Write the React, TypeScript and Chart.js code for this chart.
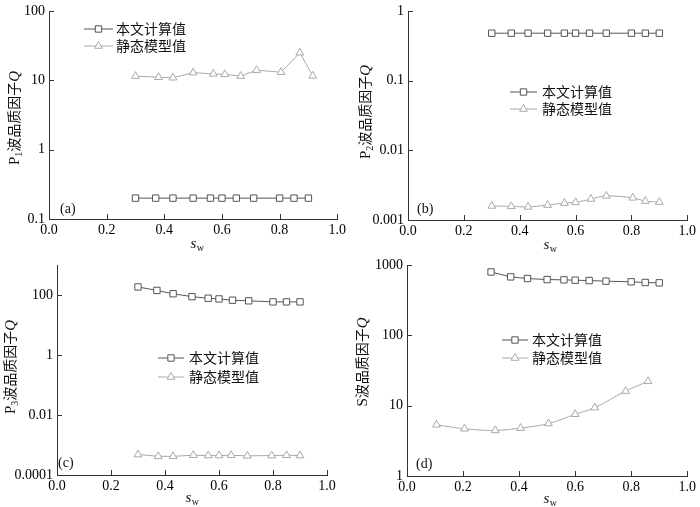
import React, { useEffect, useRef } from 'react';
import { Chart, registerables } from 'chart.js';

Chart.register(...registerables);

// ---------- data ----------
const xTicks = [0, 0.2, 0.4, 0.6, 0.8, 1.0];
const legendLabels = ['本文计算值', '静态模型值'];

const aCalcX = [0.30, 0.37, 0.43, 0.50, 0.56, 0.60, 0.65, 0.71, 0.80, 0.85, 0.90];
const aCalcY = [0.2, 0.2, 0.2, 0.2, 0.2, 0.2, 0.2, 0.2, 0.2, 0.2, 0.2];
const aStatX = [0.30, 0.38, 0.43, 0.50, 0.57, 0.61, 0.665, 0.72, 0.805, 0.87, 0.915];
const aStatY = [11.5, 11.1, 10.9, 12.9, 12.4, 12.2, 11.5, 14.0, 13.1, 25, 11.6];
const aYTicks = [0.1, 1, 10, 100];

const bCalcX = [0.30, 0.37, 0.43, 0.50, 0.56, 0.60, 0.65, 0.71, 0.80, 0.85, 0.90];
const bCalcY = [0.48, 0.48, 0.48, 0.48, 0.48, 0.48, 0.48, 0.48, 0.48, 0.48, 0.48];
const bStatX = [0.30, 0.37, 0.43, 0.50, 0.56, 0.60, 0.655, 0.71, 0.805, 0.85, 0.90];
const bStatY = [0.00159, 0.00157, 0.00154, 0.00164, 0.00175, 0.00179, 0.0020, 0.00222, 0.00208, 0.00187, 0.00181];
const bYTicks = [0.001, 0.01, 0.1, 1];

const cCalcX = [0.30, 0.37, 0.43, 0.50, 0.56, 0.60, 0.65, 0.71, 0.80, 0.85, 0.90];
const cCalcY = [186, 142, 110, 88, 78, 74, 67, 64, 59, 59, 59];
const cStatX = [0.30, 0.375, 0.43, 0.505, 0.56, 0.60, 0.645, 0.705, 0.795, 0.85, 0.90];
const cStatY = [0.00048, 0.00042, 0.00042, 0.000455, 0.000445, 0.000445, 0.000455, 0.000435, 0.000445, 0.000455, 0.000445];
const cYTicks = [0.0001, 0.01, 1, 100];

const dCalcX = [0.30, 0.37, 0.43, 0.50, 0.56, 0.60, 0.65, 0.71, 0.80, 0.85, 0.90];
const dCalcY = [796, 678, 642, 621, 615, 608, 601, 589, 577, 564, 558];
const dStatX = [0.105, 0.205, 0.315, 0.405, 0.505, 0.60, 0.67, 0.78, 0.86];
const dStatY = [5.35, 4.69, 4.45, 4.8, 5.57, 7.55, 9.37, 16.1, 22.2];
const dYTicks = [1, 10, 100, 1000];

// ---------- styles ----------
const SERIF = '"Liberation Serif", "Times New Roman", serif';
const CJK = '"Noto Sans CJK SC", sans-serif';
const CALC = '#555555';
const STAT = '#a9a9a9';
const AXIS = '#333333';

type Panel = {
  left: number; top: number; w: number; h: number;
  padTop: number; padRight: number; yWidth: number; xHeight: number;
  yMin: number; yMax: number; yTicks: number[];
  calcX: number[]; calcY: number[]; statX: number[]; statY: number[];
  statTension: number;
  legend: { x1: number; x2: number; tx: number; y1: number; y2: number };
  label: { text: string; x: number; y: number };
  yTitle: { head: string; sub: string; bx: number; cy: number };
  xTitle: { cx: number; by: number };
};

const panels: Panel[] = [
  {
    left: 0, top: 0, w: 350, h: 254, padTop: 8, padRight: 12, yWidth: 49, xHeight: 35,
    yMin: 0.1, yMax: 100, yTicks: aYTicks,
    calcX: aCalcX, calcY: aCalcY, statX: aStatX, statY: aStatY, statTension: 0,
    legend: { x1: 84, x2: 113, tx: 116, y1: 29, y2: 46 },
    label: { text: '(a)', x: 60, y: 209 },
    yTitle: { head: 'P', sub: '1', bx: 19, cy: 118 },
    xTitle: { cx: 197, by: 248 },
  },
  {
    left: 350, top: 0, w: 350, h: 254, padTop: 7, padRight: 10, yWidth: 58, xHeight: 34,
    yMin: 0.001, yMax: 1, yTicks: bYTicks,
    calcX: bCalcX, calcY: bCalcY, statX: bStatX, statY: bStatY, statTension: 0.3,
    legend: { x1: 160, x2: 187, tx: 192, y1: 92, y2: 109 },
    label: { text: '(b)', x: 67, y: 209 },
    yTitle: { head: 'P', sub: '2', bx: 20, cy: 112 },
    xTitle: { cx: 200, by: 249 },
  },
  {
    left: 0, top: 254, w: 350, h: 253, padTop: 7, padRight: 23, yWidth: 57, xHeight: 32,
    yMin: 0.0001, yMax: 1000, yTicks: cYTicks,
    calcX: cCalcX, calcY: cCalcY, statX: cStatX, statY: cStatY, statTension: 0,
    legend: { x1: 158, x2: 184, tx: 189, y1: 104, y2: 123 },
    label: { text: '(c)', x: 58, y: 209 },
    yTitle: { head: 'P', sub: '3', bx: 15, cy: 113 },
    xTitle: { cx: 192, by: 248 },
  },
  {
    left: 350, top: 254, w: 350, h: 253, padTop: 8, padRight: 10, yWidth: 57, xHeight: 31,
    yMin: 1, yMax: 1000, yTicks: dYTicks,
    calcX: dCalcX, calcY: dCalcY, statX: dStatX, statY: dStatY, statTension: 0.35,
    legend: { x1: 152, x2: 178, tx: 182, y1: 86, y2: 104 },
    label: { text: '(d)', x: 66, y: 210 },
    yTitle: { head: 'S', sub: '', bx: 17, cy: 108 },
    xTitle: { cx: 200, by: 249 },
  },
];

function drawMarker(ctx: CanvasRenderingContext2D, style: string, x: number, y: number, r: number, color: string) {
  ctx.save();
  ctx.beginPath();
  if (style === 'rect') {
    const s = Math.SQRT1_2 * r;
    ctx.rect(x - s, y - s, 2 * s, 2 * s);
  } else {
    ctx.moveTo(x, y - r);
    ctx.lineTo(x + Math.sin(2 * Math.PI / 3) * r, y + 0.5 * r);
    ctx.lineTo(x - Math.sin(2 * Math.PI / 3) * r, y + 0.5 * r);
    ctx.closePath();
  }
  ctx.fillStyle = '#ffffff';
  ctx.fill();
  ctx.strokeStyle = color;
  ctx.lineWidth = 1;
  ctx.stroke();
  ctx.restore();
}

function makeDecor(p: Panel) {
  return {
    id: 'decor',
    afterDraw(chart: any) {
      const ctx: CanvasRenderingContext2D = chart.ctx;
      const xs = chart.scales.x;
      const ys = chart.scales.y;
      const area = chart.chartArea;
      ctx.save();
      // inward ticks
      ctx.strokeStyle = AXIS;
      ctx.lineWidth = 1;
      ctx.beginPath();
      xTicks.forEach((v) => {
        const px = Math.round(xs.getPixelForValue(v)) + 0.5;
        ctx.moveTo(px, area.bottom);
        ctx.lineTo(px, area.bottom - 5);
      });
      p.yTicks.forEach((v) => {
        const py = Math.round(ys.getPixelForValue(v)) + 0.5;
        ctx.moveTo(area.left, py);
        ctx.lineTo(area.left + 5, py);
      });
      ctx.stroke();

      // legend
      const rows = [
        { y: p.legend.y1, color: CALC, style: 'rect', text: legendLabels[0] },
        { y: p.legend.y2, color: STAT, style: 'triangle', text: legendLabels[1] },
      ];
      rows.forEach((r) => {
        ctx.strokeStyle = r.color;
        ctx.lineWidth = 1;
        ctx.beginPath();
        ctx.moveTo(p.legend.x1, r.y);
        ctx.lineTo(p.legend.x2, r.y);
        ctx.stroke();
        drawMarker(ctx, r.style, (p.legend.x1 + p.legend.x2) / 2, r.y, 4.5, r.color);
        ctx.fillStyle = '#111';
        ctx.font = `14px ${CJK}`;
        ctx.textAlign = 'left';
        ctx.textBaseline = 'middle';
        ctx.fillText(r.text, p.legend.tx, r.y);
      });

      // panel label
      ctx.fillStyle = '#111';
      ctx.font = `14px ${SERIF}`;
      ctx.textAlign = 'left';
      ctx.textBaseline = 'middle';
      ctx.fillText(p.label.text, p.label.x, p.label.y);

      // x title: s_w
      ctx.textBaseline = 'alphabetic';
      const sFont = `italic 15px ${SERIF}`;
      const wFont = `10px ${SERIF}`;
      ctx.font = sFont;
      const sW = ctx.measureText('s').width;
      ctx.font = wFont;
      const wW = ctx.measureText('w').width;
      const x0 = p.xTitle.cx - (sW + wW) / 2;
      ctx.font = sFont;
      ctx.fillText('s', x0, p.xTitle.by);
      ctx.font = wFont;
      ctx.fillText('w', x0 + sW + 0.5, p.xTitle.by + 3);

      // y title (rotated)
      const parts: { t: string; f: string; dy: number }[] = [
        { t: p.yTitle.head, f: `15px ${SERIF}`, dy: 0 },
      ];
      if (p.yTitle.sub) parts.push({ t: p.yTitle.sub, f: `10px ${SERIF}`, dy: 3 });
      parts.push({ t: '波品质因子', f: `14px ${CJK}`, dy: 0 });
      parts.push({ t: 'Q', f: `italic 15px ${SERIF}`, dy: 0 });
      let total = 0;
      const widths = parts.map((pt) => {
        ctx.font = pt.f;
        const w = ctx.measureText(pt.t).width;
        total += w;
        return w;
      });
      ctx.translate(p.yTitle.bx, p.yTitle.cy);
      ctx.rotate(-Math.PI / 2);
      let cx = -total / 2;
      parts.forEach((pt, i) => {
        ctx.font = pt.f;
        ctx.fillText(pt.t, cx, pt.dy);
        cx += widths[i];
      });
      ctx.restore();
    },
  };
}

function PanelChart({ p }: { p: Panel }) {
  const ref = useRef<HTMLCanvasElement | null>(null);
  useEffect(() => {
    if (!ref.current) return;
    const tickFont = { family: SERIF, size: 14, lineHeight: 1 };
    const chart = new Chart(ref.current, {
      type: 'line',
      data: {
        datasets: [
          {
            label: legendLabels[0],
            data: p.calcX.map((x, i) => ({ x, y: p.calcY[i] })),
            borderColor: CALC,
            borderWidth: 1,
            pointStyle: 'rect',
            pointRadius: 4.5,
            pointBorderColor: CALC,
            pointBackgroundColor: '#ffffff',
            pointBorderWidth: 1,
            tension: 0,
            fill: false,
          },
          {
            label: legendLabels[1],
            data: p.statX.map((x, i) => ({ x, y: p.statY[i] })),
            borderColor: STAT,
            borderWidth: 1,
            pointStyle: 'triangle',
            pointRadius: 4.5,
            pointBorderColor: STAT,
            pointBackgroundColor: '#ffffff',
            pointBorderWidth: 1,
            tension: p.statTension,
            fill: false,
          },
        ],
      },
      options: {
        animation: false,
        responsive: false,
        maintainAspectRatio: false,
        layout: { padding: { left: 0, top: p.padTop, right: p.padRight, bottom: 0 } },
        plugins: { legend: { display: false }, tooltip: { enabled: false } },
        scales: {
          x: {
            type: 'linear',
            min: 0,
            max: 1,
            afterBuildTicks: (s: any) => { s.ticks = xTicks.map((v) => ({ value: v })); },
            afterFit: (s: any) => { s.height = p.xHeight; },
            grid: { display: false, drawTicks: false },
            border: { display: true, color: AXIS, width: 1 },
            ticks: {
              padding: 4,
              color: '#000',
              font: tickFont,
              autoSkip: false,
              maxRotation: 0,
              callback: (v: any) => Number(v).toFixed(1),
            },
          },
          y: {
            type: 'logarithmic',
            min: p.yMin,
            max: p.yMax,
            afterBuildTicks: (s: any) => { s.ticks = p.yTicks.map((v) => ({ value: v })); },
            afterFit: (s: any) => { s.width = p.yWidth; },
            grid: { display: false, drawTicks: false },
            border: { display: true, color: AXIS, width: 1 },
            ticks: {
              padding: 4,
              color: '#000',
              font: tickFont,
              autoSkip: false,
              callback: (v: any) => String(v),
            },
          },
        },
      } as any,
      plugins: [makeDecor(p)],
    });
    return () => chart.destroy();
  }, [p]);
  return (
    <canvas
      ref={ref}
      width={p.w}
      height={p.h}
      style={{ position: 'absolute', left: p.left, top: p.top, width: p.w, height: p.h }}
    />
  );
}

export default function App() {
  return (
    <div style={{ position: 'fixed', left: 0, top: 0, width: 700, height: 507, background: '#fff' }}>
      {panels.map((p, i) => (
        <PanelChart key={i} p={p} />
      ))}
    </div>
  );
}
